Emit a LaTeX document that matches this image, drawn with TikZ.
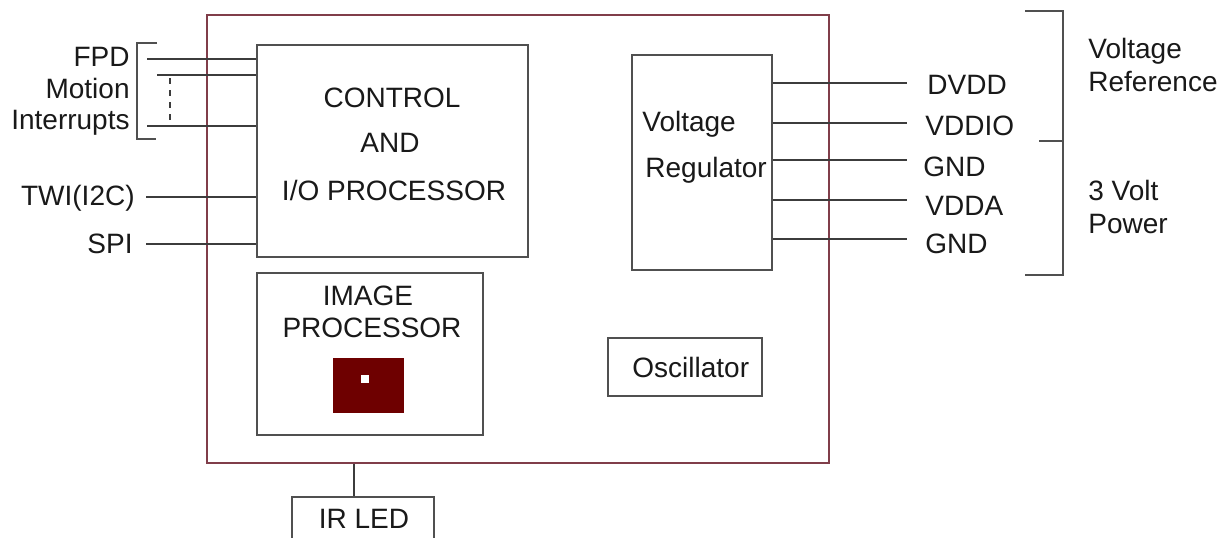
\documentclass[tikz,border=0pt]{standalone}
\usepackage{fontspec}
\setmainfont{Liberation Sans}
\usetikzlibrary{fit}
\definecolor{outerc}{RGB}{128,62,74}
\definecolor{linec}{RGB}{60,60,60}
\definecolor{boxc}{RGB}{80,80,80}
\definecolor{txtc}{RGB}{25,25,25}
\definecolor{chipc}{RGB}{110,0,0}
\begin{document}
\begin{tikzpicture}[x=0.5pt,y=-0.5pt,
  blk/.style={draw=boxc,line width=1pt,inner sep=0pt,fill=none},
  wire/.style={draw=linec,line width=0.8pt},
  lbl/.style={inner sep=0pt,text=txtc,font=\fontsize{14}{16}\selectfont},
  lbe/.style={lbl,anchor=base east},
  lbw/.style={lbl,anchor=base west},
  lbc/.style={lbl,anchor=base}]
\useasboundingbox (0,0) rectangle (1231,537);
\clip (0,0) rectangle (1231,537);
\fill[white] (0,0) rectangle (1231,537);

% outer chip box
\node[fit={(207,15) (829,463)},draw=outerc,line width=0.8pt,inner sep=0pt] (chip) {};

% inner blocks
\node[blk,fit={(257,45) (528,257)}] (ctrl) {};
\node[blk,fit={(257,273) (483,435)}] (img) {};
\node[blk,fit={(632,55) (772,270)}] (vreg) {};
\node[blk,fit={(608,338) (762,396)}] (osc) {};
\node[blk,fit={(292,497) (434,560)}] (irled) {};
\node[fill=chipc,inner sep=0pt,fit={(333,358) (404,413)}] (sensor) {};
\node[fill=white,inner sep=0pt,fit={(361,375) (369,383)}] (pix) {};

% block texts
\node[lbc] (t1) at (392,107) {CONTROL};
\node[lbc] (t2) at (390,152) {AND};
\node[lbc] (t3) at (394,200) {I/O PROCESSOR};
\node[lbc] (t4) at (368,305) {IMAGE};
\node[lbc] (t5) at (372,337) {PROCESSOR};
\node[lbw] (t6) at (642,131) {Voltage};
\node[lbw] (t7) at (645,177) {Regulator};
\node[lbw] (t8) at (632,377) {Oscillator};
\node[lbc] (t9) at (364,528) {IR LED};

% left labels
\node[lbe] (fpd) at (130,66) {FPD};
\node[lbe] (mot) at (130,98) {Motion};
\node[lbe] (intr) at (130,129) {Interrupts};
\node[lbe] (twi) at (135,205) {TWI(I2C)};
\node[lbe] (spi) at (133,253) {SPI};

\coordinate (fpdL) at (147,59);
\coordinate (motL) at (157,75);
\coordinate (intL) at (147,126);
\coordinate (twiL) at (146,197);
\coordinate (spiL) at (146,244);
\draw[wire] (fpdL) -- (fpdL -| ctrl.west);
\draw[wire] (motL) -- (motL -| ctrl.west);
\draw[wire] (intL) -- (intL -| ctrl.west);
\draw[wire] (twiL) -- (twiL -| ctrl.west);
\draw[wire] (spiL) -- (spiL -| ctrl.west);
\coordinate (dotA) at (170,78);
\coordinate (dotB) at (170,121);
\draw[wire,dash pattern=on 3pt off 3pt] (dotA) -- (dotB);

% left bracket
\coordinate (lbA) at (157,43);
\coordinate (lbB) at (137,43);
\coordinate (lbC) at (137,139);
\coordinate (lbD) at (156,139);
\draw[draw=boxc,line width=0.8pt] (lbA) -- (lbB) -- (lbC) -- (lbD);

% right pins
\node[lbw] (dvdd) at (927,94) {DVDD};
\node[lbw] (vddio) at (925,135) {VDDIO};
\node[lbw] (gnda) at (923,176) {GND};
\node[lbw] (vdda) at (925,215) {VDDA};
\node[lbw] (gndb) at (925,253) {GND};
\coordinate (p1) at (907,83);
\coordinate (p2) at (907,123);
\coordinate (p3) at (907,160);
\coordinate (p4) at (907,200);
\coordinate (p5) at (907,239);
\draw[wire] (p1 -| vreg.east) -- (p1);
\draw[wire] (p2 -| vreg.east) -- (p2);
\draw[wire] (p3 -| vreg.east) -- (p3);
\draw[wire] (p4 -| vreg.east) -- (p4);
\draw[wire] (p5 -| vreg.east) -- (p5);

% right bracket
\coordinate (rbA) at (1025,11);
\coordinate (rbB) at (1063,11);
\coordinate (rbC) at (1063,275);
\coordinate (rbD) at (1025,275);
\coordinate (rbM) at (1039,141);
\draw[draw=boxc,line width=0.8pt] (rbA) -- (rbB) -- (rbC) -- (rbD);
\draw[draw=boxc,line width=0.8pt] (rbM) -- (rbM -| rbB);
\node[lbw] (vr1) at (1088,58) {Voltage};
\node[lbw] (vr2) at (1088,91) {Reference};
\node[lbw] (pw1) at (1088,200) {3 Volt};
\node[lbw] (pw2) at (1088,233) {Power};

% IR LED link
\coordinate (irx) at (354,0);
\draw[wire] (irx |- chip.south) -- (irx |- irled.north);
\end{tikzpicture}
\end{document}
